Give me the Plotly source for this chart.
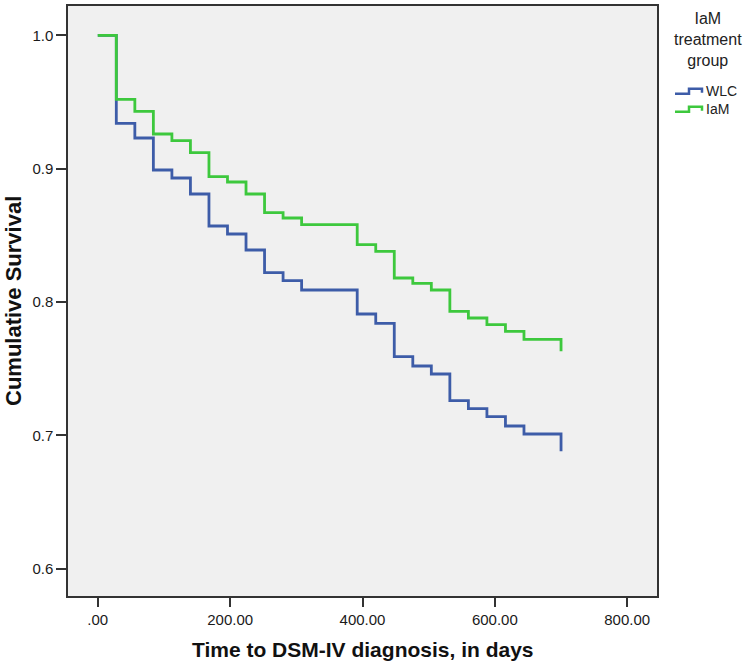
import plotly.graph_objects as go

# ---- data ----
times = [0, 28, 56, 84, 112, 140, 168, 196, 224, 252, 280, 308, 392, 420,
         448, 476, 504, 532, 560, 588, 616, 644, 700]
wlc = [1.0, 0.934, 0.923, 0.899, 0.893, 0.881, 0.857, 0.851, 0.839, 0.822,
       0.816, 0.809, 0.791, 0.784, 0.759, 0.752, 0.746, 0.726, 0.720, 0.714,
       0.707, 0.701, 0.688]
iam = [1.0, 0.952, 0.943, 0.926, 0.921, 0.912, 0.894, 0.890, 0.881, 0.867,
       0.863, 0.858, 0.843, 0.838, 0.818, 0.814, 0.809, 0.793, 0.788, 0.783,
       0.778, 0.772, 0.763]
series_names = ["WLC", "IaM"]
x_tickvals = [0, 200, 400, 600, 800]
x_ticktext = [".00", "200.00", "400.00", "600.00", "800.00"]
y_tickvals = [0.6, 0.7, 0.8, 0.9, 1.0]
y_ticktext = ["0.6", "0.7", "0.8", "0.9", "1.0"]
legend_title = "IaM<br>treatment<br>group"
x_title = "Time to DSM-IV diagnosis, in days"
y_title = "Cumulative Survival"

BLUE = "#3d5ca8"
GREEN = "#3dc83d"
FONT = "Liberation Sans, Arial, sans-serif"

W, H = 750, 666
L, R, T, B = 68, 93, 4, 70
PW, PH = W - L - R, H - T - B


def px(x):
    return (x - L) / PW


def py(y):
    return (H - B - y) / PH


fig = go.Figure()
fig.add_trace(go.Scatter(x=times, y=wlc, mode="lines", name=series_names[0],
                         line=dict(color=BLUE, width=2.8, shape="hv")))
fig.add_trace(go.Scatter(x=times, y=iam, mode="lines", name=series_names[1],
                         line=dict(color=GREEN, width=2.8, shape="hv")))

fig.update_layout(
    width=W, height=H,
    margin=dict(l=L, r=R, t=T, b=B),
    paper_bgcolor="white", plot_bgcolor="#f0f0f0",
    showlegend=False,
    font=dict(family=FONT, size=14, color="#222222"),
)
fig.update_xaxes(range=[-45, 845], tickvals=x_tickvals, ticktext=x_ticktext,
                 ticks="outside", ticklen=9, tickwidth=1.5, tickcolor="#333",
                 showline=True, linecolor="#333", linewidth=1.5, mirror=True,
                 showgrid=False, zeroline=False,
                 tickfont=dict(size=15, family=FONT, color="#1a1a1a"))
fig.update_yaxes(range=[0.5795, 1.022], tickvals=y_tickvals, ticktext=y_ticktext,
                 ticks="outside", ticklen=10, tickwidth=1.5, tickcolor="#333",
                 showline=True, linecolor="#333", linewidth=1.5, mirror=True,
                 showgrid=False, zeroline=False,
                 tickfont=dict(size=15, family=FONT, color="#1a1a1a"))

ann = []
ann.append(dict(text="<b>%s</b>" % x_title, xref="paper", yref="paper",
                x=0.5, y=0, yshift=-(649 - (H - B)), xanchor="center",
                yanchor="middle", showarrow=False,
                font=dict(size=21, family=FONT, color="#111")))
ann.append(dict(text="<b>%s</b>" % y_title, xref="paper", yref="paper",
                x=0, xshift=-(L - 13), y=0.5, xanchor="center",
                yanchor="middle", textangle=-90, showarrow=False,
                font=dict(size=22, family=FONT, color="#111")))
# legend
ann.append(dict(text=legend_title, xref="paper", yref="paper",
                x=px(708), y=py(6), xanchor="center", yanchor="top",
                align="center", showarrow=False,
                font=dict(size=16, family=FONT, color="#222")))
ann.append(dict(text=series_names[0], xref="paper", yref="paper",
                x=px(704), y=py(89), xanchor="left", yanchor="middle",
                showarrow=False, font=dict(size=14, family=FONT, color="#222")))
ann.append(dict(text=series_names[1], xref="paper", yref="paper",
                x=px(704), y=py(107), xanchor="left", yanchor="middle",
                showarrow=False, font=dict(size=14, family=FONT, color="#222")))
fig.update_layout(annotations=ann)


def glyph(yb, color):
    pts = [(675, yb), (689, yb), (689, yb - 5), (702, yb - 5), (702, yb - 1)]
    d = "M " + " L ".join("%.5f,%.5f" % (px(a), py(b)) for a, b in pts)
    return dict(type="path", xref="paper", yref="paper", path=d,
                line=dict(color=color, width=2.5))


fig.update_layout(shapes=[glyph(92, BLUE), glyph(110, GREEN)])

fig.write_html(
    "out.html",
    config={"displayModeBar": False},
    post_script="document.body.style.margin='0';document.body.style.padding='0';"
                "document.documentElement.style.overflow='hidden';",
)
